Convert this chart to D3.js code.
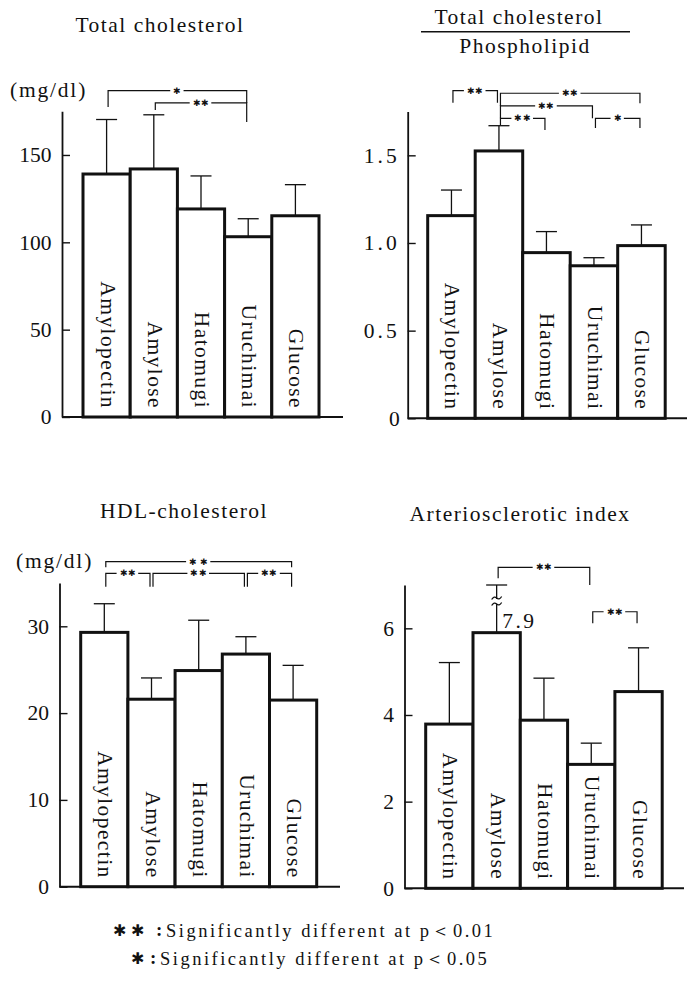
<!DOCTYPE html>
<html><head><meta charset="utf-8">
<script src="https://cdn.jsdelivr.net/npm/d3@7"></script>
<style>
body{margin:0;background:#fff;}
svg{display:block;background:#fff;}
text{font-family:"Liberation Serif","Times New Roman",serif;fill:#111;}
</style></head><body>
<svg id="chart" width="691" height="990"></svg>
<script>
// ---------- data ----------
const categories = ["Amylopectin","Amylose","Hatomugi","Uruchimai","Glucose"];

const tcMean = [139.1, 142.0, 119.1, 103.2, 115.2];
const tcSD   = [31.2, 31.0, 18.9, 10.3, 17.8];
const tcTicks = [0, 50, 100, 150];

const tcplMean = [1.156, 1.525, 0.945, 0.870, 0.985];
const tcplSD   = [0.146, 0.144, 0.120, 0.046, 0.118];
const tcplTicks = [0, 0.5, 1.0, 1.5];

const hdlMean = [29.3, 21.6, 24.9, 26.8, 21.5];
const hdlSD   = [3.3, 2.45, 5.8, 2.0, 4.0];
const hdlTicks = [0, 10, 20, 30];

const aiMean = [3.79, 5.90, 3.88, 2.86, 4.54];
const aiSD   = [1.42, 2.00, 0.97, 0.49, 1.01];
const aiTicks = [0, 2, 4, 6];

// significance brackets: [from, to, bracket level, left-leg end, right-leg end, label] (data units)
const tcSig = [
  ["Amylopectin","Uruchimai",186.8,177.5,179.8,"✱"],
  ["Amylose","Uruchimai",179.8,175.7,168.9,"✱✱"]
];
const tcplSig = [
  ["Amylopectin","Amylose",1.869,1.800,1.800,"✱✱"],
  ["Amylose","Glucose",1.854,1.782,1.797,"✱✱"],
  ["Amylose","Uruchimai",1.782,1.711,1.711,"✱✱"],
  ["Amylose","Hatomugi",1.711,1.673,1.645,"✱✱"],
  ["Uruchimai","Glucose",1.711,1.656,1.656,"✱"]
];
const hdlSig = [
  ["Amylopectin","Glucose",37.44,36.8,36.8,"✱ ✱"],
  ["Amylopectin","Amylose",36.1,34.56,34.56,"✱✱"],
  ["Amylose","Uruchimai",36.1,34.56,34.56,"✱✱"],
  ["Uruchimai","Glucose",36.1,34.56,34.56,"✱✱"]
];
const aiSig = [
  ["Amylose","Uruchimai",7.408,7.154,7.0,"✱✱"],
  ["Uruchimai","Glucose",6.383,6.116,6.116,"✱✱"]
];

const footStars = ["✱✱", "✱"];
const footTexts = ["Significantly different at p＜0.01", "Significantly different at p＜0.05"];

// ---------- layout ----------
const panels = [
  {mean:tcMean, sd:tcSD, ticks:tcTicks, sig:tcSig, domain:[0,175], axisX:62, y0:417, yTop:111.3,
   barX0:83, barW:47.2, baseEnd:343, fmt:d3.format("d"), spacing:0,
   unit:"(mg/dl)", unitX:10, unitY:97, title:"Total cholesterol", titleX:160, titleY:32},
  {mean:tcplMean, sd:tcplSD, ticks:tcplTicks, sig:tcplSig, domain:[0,1.75], axisX:407.7, y0:418.3, yTop:111.5,
   barX0:427.7, barW:47.5, baseEnd:687, fmt:d=> d===0 ? "0" : d3.format(".1f")(d), spacing:3,
   unit:null, frac:["Total cholesterol","Phospholipid"], titleX:522},
  {mean:hdlMean, sd:hdlSD, ticks:hdlTicks, sig:hdlSig, domain:[0,35], axisX:59.5, y0:886.7, yTop:582.9,
   barX0:80.7, barW:47.2, baseEnd:340, fmt:d3.format("d"), spacing:0,
   unit:"(mg/dl)", unitX:16, unitY:568, title:"HDL-cholesterol", titleX:184, titleY:518},
  {mean:aiMean, sd:aiSD, ticks:aiTicks, sig:aiSig, domain:[0,7], axisX:404.5, y0:888.3, yTop:585,
   barX0:425.7, barW:47.3, baseEnd:684, fmt:d3.format("d"), spacing:0,
   unit:null, title:"Arteriosclerotic index", titleX:520, titleY:521}
];

const svg = d3.select("#chart");
svg.append("rect").attr("width",691).attr("height",990).attr("fill","#fff");

panels.forEach(p => {
  const g = svg.append("g");
  const y = d3.scaleLinear().domain(p.domain).range([p.y0, p.yTop]);
  const x = d3.scaleBand().domain(categories).range([p.barX0, p.barX0 + categories.length*p.barW]).padding(0);
  const bw = x.bandwidth();
  const cx = c => x(c) + bw/2;
  const yMax = p.domain[1];

  // title
  if (p.frac) {
    g.append("text").attr("x", p.titleX - 3).attr("y", 24).attr("text-anchor","middle")
      .attr("font-size", 21.5).attr("letter-spacing", 1.5).text(p.frac[0]);
    g.append("line").attr("x1", 421).attr("x2", 630).attr("y1", 31.7).attr("y2", 31.7)
      .attr("stroke","#111").attr("stroke-width",1.4);
    g.append("text").attr("x", p.titleX + 3).attr("y", 53).attr("text-anchor","middle")
      .attr("font-size", 21.5).attr("letter-spacing", 1.5).text(p.frac[1]);
  } else {
    g.append("text").attr("x", p.titleX).attr("y", p.titleY).attr("text-anchor","middle")
      .attr("font-size", 21.5).attr("letter-spacing", 1.5).text(p.title);
  }
  if (p.unit) {
    g.append("text").attr("x", p.unitX).attr("y", p.unitY).attr("font-size", 21.5)
      .attr("letter-spacing", 1.8).text(p.unit);
  }

  // axis
  const axis = d3.axisLeft(y).tickValues(p.ticks).tickFormat(p.fmt)
    .tickSizeInner(-8).tickSizeOuter(0).tickPadding(p.spacing ? 8 : 10.5);
  const ag = g.append("g").attr("transform", `translate(${p.axisX},0)`).call(axis);
  ag.select(".domain").attr("stroke","#111").attr("stroke-width",1.8);
  ag.selectAll(".tick line").attr("stroke","#111").attr("stroke-width",1.4);
  ag.selectAll(".tick text").attr("font-family",'"Liberation Serif",serif').attr("font-size",21.5)
    .attr("fill","#111").attr("letter-spacing", d => d===0 ? 0 : p.spacing);

  // baseline
  g.append("line").attr("x1", p.axisX).attr("x2", p.baseEnd).attr("y1", p.y0).attr("y2", p.y0)
    .attr("stroke","#111").attr("stroke-width",2);

  const data = categories.map((c,i) => ({c, m:p.mean[i], s:p.sd[i]}));

  // error bars
  const eg = g.append("g").attr("stroke","#111").attr("stroke-width",1.3);
  data.forEach(d => {
    const top = Math.min(d.m + d.s, yMax);
    eg.append("line").attr("x1",cx(d.c)).attr("x2",cx(d.c)).attr("y1",y(d.m)).attr("y2",y(top));
    eg.append("line").attr("x1",cx(d.c)-10.5).attr("x2",cx(d.c)+10.5).attr("y1",y(top)).attr("y2",y(top));
    if (d.m + d.s > yMax) {
      // axis break marks on the error line
      const by = y(top) + 16;
      eg.append("rect").attr("x",cx(d.c)-3).attr("y",by-2).attr("width",6).attr("height",5)
        .attr("fill","#fff").attr("stroke","none");
      [by-3, by+3].forEach(yy => {
        eg.append("path").attr("fill","none").attr("stroke-width",1.3)
          .attr("d", `M${cx(d.c)-5},${yy+1.5} q2.5,-4 5,-1.5 t5,-1.5`);
      });
      g.append("text").attr("x", cx(d.c)+5.5).attr("y", y(d.m)-4.5).attr("font-size",21.5)
        .attr("letter-spacing",2.5).text(d3.format(".1f")(d.m + d.s));
    }
  });

  // bars
  g.append("g").selectAll("rect").data(data).join("rect")
    .attr("x", d => x(d.c)).attr("y", d => y(d.m))
    .attr("width", bw).attr("height", d => p.y0 - y(d.m))
    .attr("fill","#fff").attr("stroke","#111").attr("stroke-width",3);

  // bar labels
  g.append("g").selectAll("text").data(data).join("text")
    .attr("transform", d => `translate(${cx(d.c)+1},${p.y0-8}) rotate(90)`)
    .attr("text-anchor","end").attr("dominant-baseline","central")
    .attr("font-size",21.5).attr("letter-spacing",1.4)
    .text(d => d.c);

  // significance brackets
  const sg = g.append("g");
  p.sig.forEach(s => {
    const [a,b,lev,ll,lr,lab] = s;
    const xl = cx(a) + 1.5, xr = cx(b) - 1.5, ly = y(lev);
    sg.append("path").attr("fill","none").attr("stroke","#111").attr("stroke-width",1.2)
      .attr("d", `M${xl},${y(ll)}V${ly}H${xr}V${y(lr)}`);
    const t = sg.append("text").attr("x",(xl+xr)/2).attr("y",ly)
      .attr("text-anchor","middle").attr("dominant-baseline","central")
      .attr("font-family",'"DejaVu Sans",sans-serif')
      .attr("font-size",9.2).attr("letter-spacing",0.3).text(lab);
    const bb = t.node().getBBox();
    sg.insert("rect", () => t.node()).attr("x", bb.x-3).attr("y", ly-4).attr("width", bb.width+5).attr("height", 8)
      .attr("fill","#fff");
  });
});

// footnotes
const starX = [113, 131], colonX = [156, 150], textX = [166, 160], fy = [937, 965];
footTexts.forEach((f,i) => {
  svg.append("text").attr("x", starX[i]).attr("y", fy[i]-1)
    .attr("font-family",'"DejaVu Sans",sans-serif')
    .attr("font-size",16).attr("letter-spacing",5).text(footStars[i]);
  svg.append("text").attr("x", colonX[i]).attr("y", fy[i]-1).attr("font-size",19).attr("font-weight",700).text(":");
  svg.append("text").attr("x", textX[i]).attr("y", fy[i]).attr("font-size",18.5)
    .attr("letter-spacing",2.5).text(f);
});
</script>
</body></html>
